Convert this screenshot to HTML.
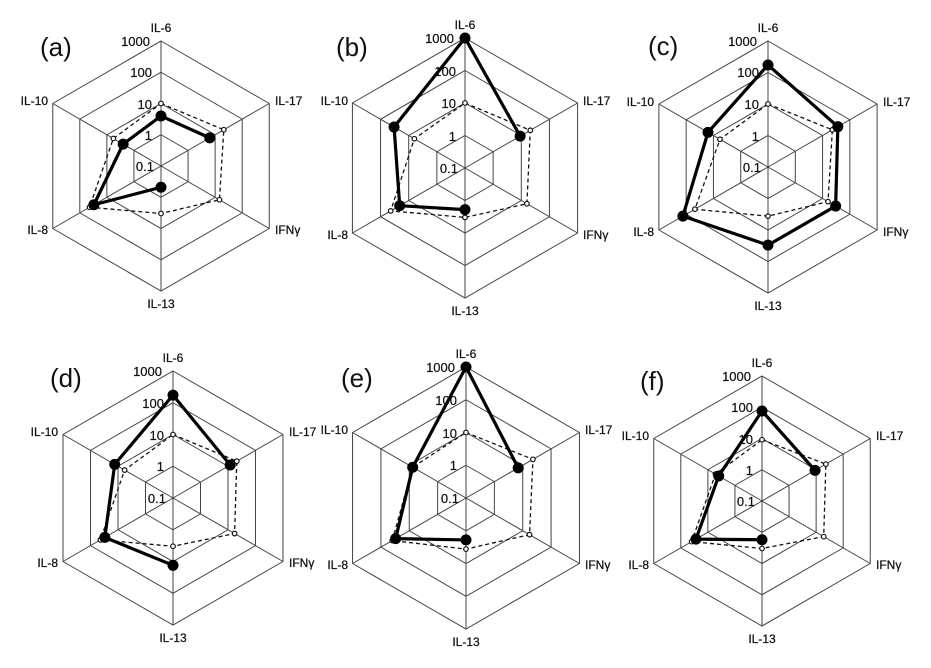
<!DOCTYPE html>
<html><head><meta charset="utf-8"><style>
html,body{margin:0;padding:0;background:#fff;}
svg{display:block;}
text{font-family:"Liberation Sans",sans-serif;fill:#111;}
.ax{font-size:12px;stroke:#111;stroke-width:0.25px;}
.sc{font-size:13px;text-anchor:end;stroke:#111;stroke-width:0.2px;}
.pl{font-size:26px;}
</style></head><body>
<svg id="s" width="931" height="668" viewBox="0 0 931 668" xmlns="http://www.w3.org/2000/svg">
<g id="shapes"></g>
<g transform="translate(161,166)">
<text class="ax" x="0" y="-134" text-anchor="middle">IL-6</text>
<text class="ax" x="114" y="-61">IL-17</text>
<text class="ax" x="114" y="68">IFNγ</text>
<text class="ax" x="0" y="142" text-anchor="middle">IL-13</text>
<text class="ax" x="-113" y="68" text-anchor="end">IL-8</text>
<text class="ax" x="-113" y="-61" text-anchor="end">IL-10</text>
<text class="sc" x="-11" y="-120">1000</text><text class="sc" x="-9" y="-89">100</text><text class="sc" x="-9" y="-57">10</text><text class="sc" x="-9" y="-26">1</text><text class="sc" x="-7" y="5">0.1</text>
</g>
<text class="pl" x="40" y="56">(a)</text>
<g transform="translate(465,168)">
<text class="ax" x="0" y="-139" text-anchor="middle">IL-6</text>
<text class="ax" x="118" y="-63">IL-17</text>
<text class="ax" x="118" y="71">IFNγ</text>
<text class="ax" x="0" y="147" text-anchor="middle">IL-13</text>
<text class="ax" x="-117" y="71" text-anchor="end">IL-8</text>
<text class="ax" x="-117" y="-63" text-anchor="end">IL-10</text>
<text class="sc" x="-11" y="-125">1000</text><text class="sc" x="-9" y="-92">100</text><text class="sc" x="-9" y="-60">10</text><text class="sc" x="-9" y="-27">1</text><text class="sc" x="-7" y="5">0.1</text>
</g>
<text class="pl" x="336" y="56">(b)</text>
<g transform="translate(768,167)">
<text class="ax" x="0" y="-135" text-anchor="middle">IL-6</text>
<text class="ax" x="115" y="-61">IL-17</text>
<text class="ax" x="115" y="69">IFNγ</text>
<text class="ax" x="0" y="143" text-anchor="middle">IL-13</text>
<text class="ax" x="-114" y="69" text-anchor="end">IL-8</text>
<text class="ax" x="-114" y="-61" text-anchor="end">IL-10</text>
<text class="sc" x="-11" y="-121">1000</text><text class="sc" x="-9" y="-90">100</text><text class="sc" x="-9" y="-58">10</text><text class="sc" x="-9" y="-26">1</text><text class="sc" x="-7" y="5">0.1</text>
</g>
<text class="pl" x="648" y="55">(c)</text>
<g transform="translate(173,498)">
<text class="ax" x="0" y="-136" text-anchor="middle">IL-6</text>
<text class="ax" x="116" y="-62">IL-17</text>
<text class="ax" x="116" y="69">IFNγ</text>
<text class="ax" x="0" y="144" text-anchor="middle">IL-13</text>
<text class="ax" x="-115" y="69" text-anchor="end">IL-8</text>
<text class="ax" x="-115" y="-62" text-anchor="end">IL-10</text>
<text class="sc" x="-11" y="-122">1000</text><text class="sc" x="-9" y="-90">100</text><text class="sc" x="-9" y="-58">10</text><text class="sc" x="-9" y="-27">1</text><text class="sc" x="-7" y="5">0.1</text>
</g>
<text class="pl" x="50" y="387">(d)</text>
<g transform="translate(466,498)">
<text class="ax" x="0" y="-140" text-anchor="middle">IL-6</text>
<text class="ax" x="119" y="-64">IL-17</text>
<text class="ax" x="119" y="71">IFNγ</text>
<text class="ax" x="0" y="148" text-anchor="middle">IL-13</text>
<text class="ax" x="-118" y="71" text-anchor="end">IL-8</text>
<text class="ax" x="-118" y="-64" text-anchor="end">IL-10</text>
<text class="sc" x="-11" y="-126">1000</text><text class="sc" x="-9" y="-93">100</text><text class="sc" x="-9" y="-60">10</text><text class="sc" x="-9" y="-28">1</text><text class="sc" x="-7" y="5">0.1</text>
</g>
<text class="pl" x="341" y="387">(e)</text>
<g transform="translate(762,501)">
<text class="ax" x="0" y="-134" text-anchor="middle">IL-6</text>
<text class="ax" x="114" y="-61">IL-17</text>
<text class="ax" x="114" y="68">IFNγ</text>
<text class="ax" x="0" y="142" text-anchor="middle">IL-13</text>
<text class="ax" x="-113" y="68" text-anchor="end">IL-8</text>
<text class="ax" x="-113" y="-61" text-anchor="end">IL-10</text>
<text class="sc" x="-11" y="-120">1000</text><text class="sc" x="-9" y="-89">100</text><text class="sc" x="-9" y="-57">10</text><text class="sc" x="-9" y="-26">1</text><text class="sc" x="-7" y="5">0.1</text>
</g>
<text class="pl" x="640" y="390">(f)</text>
</svg>
<script>
(function(){
var NS="http://www.w3.org/2000/svg",g=document.getElementById("shapes");
var ang=[-90,-30,30,90,150,210];
function pt(cx,cy,R,i,f){var a=ang[i]*Math.PI/180;return [cx+Math.cos(a)*R*f,cy+Math.sin(a)*R*f];}
function el(n,at){var e=document.createElementNS(NS,n);for(var k in at)e.setAttribute(k,at[k]);g.appendChild(e);return e;}
var P=[
 {c:[161,166,125],s:[0.40,0.45,null,0.17,0.62,0.35],d:[0.5,0.58,0.54,0.38,0.66,0.44],cl:false},
 {c:[465,168,130],s:[1.0,0.49,null,0.32,0.58,0.63],d:[0.5,0.58,0.55,0.38,0.66,0.45],cl:false},
 {c:[768,167,126],s:[0.81,0.64,0.62,0.62,0.78,0.55],d:[0.5,0.59,0.55,0.39,0.67,0.44],cl:true},
 {c:[173,498,127],s:[0.81,0.52,null,0.53,0.62,0.53],d:[0.5,0.58,0.56,0.38,0.66,0.44],cl:false},
 {c:[466,498,131],s:[1.0,0.46,null,0.32,0.62,0.47],d:[0.5,0.59,0.56,0.39,0.65,0.47],cl:false},
 {c:[762,501,125],s:[0.72,0.49,null,0.31,0.61,0.40],d:[0.49,0.59,0.57,0.38,0.65,0.43],cl:false}
];
P.forEach(function(p){
 var cx=p.c[0],cy=p.c[1],R=p.c[2];
 for(var k=1;k<=4;k++){var pts=[];for(var i=0;i<6;i++)pts.push(pt(cx,cy,R,i,k/4).join(","));
  el("polygon",{points:pts.join(" "),fill:"none",stroke:"#444","stroke-width":"1"});}
 for(var i=0;i<6;i++){var q=pt(cx,cy,R,i,1);el("line",{x1:cx,y1:cy,x2:q[0],y2:q[1],stroke:"#444","stroke-width":"1"});}
 var dp=[];for(var i=0;i<6;i++)dp.push(pt(cx,cy,R,i,p.d[i]));
 el("polygon",{points:dp.map(function(a){return a.join(",")}).join(" "),fill:"none",stroke:"#111","stroke-width":"1.3","stroke-dasharray":"4,3"});
 dp.forEach(function(a){el("circle",{cx:a[0],cy:a[1],r:"2.3",fill:"#fff",stroke:"#111","stroke-width":"1.2"});});
 var order=p.cl?[0,1,2,3,4,5,0]:[1,0,5,4,3];
 var sp=order.map(function(i){return pt(cx,cy,R,i,p.s[i]);});
 el("polyline",{points:sp.map(function(a){return a.join(",")}).join(" "),fill:"none",stroke:"#000","stroke-width":"3.2","stroke-linejoin":"round"});
 for(var i=0;i<6;i++){if(p.s[i]==null)continue;var a=pt(cx,cy,R,i,p.s[i]);el("circle",{cx:a[0],cy:a[1],r:"5.5",fill:"#000"});}
});
})();
</script>
</body></html>
